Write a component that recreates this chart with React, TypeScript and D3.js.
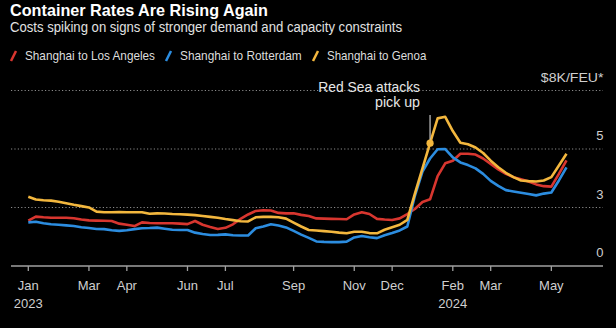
import React from "react";
import * as d3 from "d3";

const START = "2023-01-05";
const laValues = [
  2.07, 2.25, 2.22, 2.2, 2.2, 2.2, 2.18, 2.12, 2.08, 2.07,
  2.06, 2.05, 1.93, 1.88, 1.82, 1.99, 1.96, 1.95, 1.95, 1.95,
  1.93, 1.91, 2.05, 1.88, 1.78, 1.69, 1.74, 1.9, 2.15, 2.35,
  2.51, 2.54, 2.53, 2.42, 2.4, 2.4, 2.33, 2.28, 2.17, 2.16,
  2.15, 2.14, 2.13, 2.35, 2.45, 2.37, 2.15, 2.12, 2.1, 2.17,
  2.37, 2.6, 2.92, 3.04, 4.1, 4.68, 4.8, 5.12, 5.12, 5.08,
  4.9, 4.65, 4.4, 4.2, 4.05, 3.95, 3.85, 3.72, 3.64, 3.62,
  4.2, 4.82,
];
const rotterdamValues = [
  1.99, 2.02, 1.95, 1.9, 1.88, 1.85, 1.82, 1.77, 1.73, 1.69,
  1.68, 1.63, 1.6, 1.63, 1.68, 1.72, 1.73, 1.75, 1.7, 1.65,
  1.64, 1.64, 1.52, 1.46, 1.41, 1.42, 1.44, 1.4, 1.39, 1.39,
  1.72, 1.8, 1.9, 1.85, 1.76, 1.6, 1.43, 1.28, 1.12, 1.1,
  1.09, 1.09, 1.11, 1.3, 1.37, 1.31, 1.27, 1.4, 1.5, 1.62,
  1.8, 3.2, 4.3, 4.9, 5.32, 5.33, 4.95, 4.72, 4.6, 4.45,
  4.2, 3.88, 3.65, 3.46, 3.4, 3.34, 3.28, 3.22, 3.3, 3.35,
  3.9, 4.5,
];
const genoaValues = [
  3.16, 3.03, 3.0, 2.98, 2.93, 2.86, 2.79, 2.73, 2.67, 2.48,
  2.45, 2.45, 2.46, 2.45, 2.45, 2.45, 2.38, 2.4, 2.39, 2.37,
  2.36, 2.34, 2.32, 2.28, 2.24, 2.2, 2.14, 2.09, 2.04, 2.03,
  2.22, 2.24, 2.24, 2.22, 2.16, 1.98, 1.8, 1.64, 1.62, 1.59,
  1.56, 1.52, 1.49, 1.56, 1.56, 1.5, 1.49, 1.65, 1.77, 1.88,
  2.1, 3.3, 4.45, 5.6, 6.73, 6.8, 6.15, 5.62, 5.55, 5.4,
  5.15, 4.8, 4.5, 4.25, 4.05, 3.9, 3.87, 3.85, 3.9, 4.05,
  4.58, 5.12,
];
const seriesNames = ["Shanghai to Los Angeles", "Shanghai to Rotterdam", "Shanghai to Genoa"];
const seriesColors = ["#d8362f", "#2c8de0", "#f3b73e"];
const yTickValues = [0, 8 / 3, 16 / 3, 8];
const yTickLabels = ["0", "3", "5", "$8K/FEU*"];
const xTickDates = [
  "2023-01-05", "2023-03-02", "2023-04-06", "2023-06-01", "2023-07-06", "2023-09-07",
  "2023-11-02", "2023-12-07", "2024-02-01", "2024-03-07", "2024-05-02",
];
const xTickLabels = ["Jan", "Mar", "Apr", "Jun", "Jul", "Sep", "Nov", "Dec", "Feb", "Mar", "May"];
const yearLabels = [
  { date: "2023-01-05", label: "2023" },
  { date: "2024-02-01", label: "2024" },
];
const annotationIndex = 53;
const annotationLines = ["Red Sea attacks", "pick up"];

const W = 616;
const H = 328;
const FONT = "'Liberation Sans Narrow', 'Liberation Sans', Arial, sans-serif";

function parse(s: string): Date {
  const [y, m, d] = s.split("-").map(Number);
  return new Date(y, m - 1, d);
}

export default function App() {
  const start = parse(START);
  const dates = laValues.map((_, i) => d3.timeDay.offset(start, 7 * i));
  const x = d3
    .scaleTime()
    .domain([parse("2023-01-05"), parse("2024-05-16")])
    .range([28.3, 566.5]);
  const y = d3.scaleLinear().domain([0, 8]).range([266, 90.5]);
  const allSeries = [laValues, rotterdamValues, genoaValues];
  const line = d3
    .line<number>()
    .x((_, i) => x(dates[i]))
    .y((v) => y(v))
    .curve(d3.curveLinear);

  const legendX = [10, 165, 312];
  const legendLen = [130, 121.7, 99.3];
  const ax = x(dates[annotationIndex]);
  const ay = y(genoaValues[annotationIndex]);

  return (
    <div style={{ position: "fixed", left: 0, top: 0, width: W, height: H, background: "#000" }}>
      <svg width={W} height={H} style={{ display: "block", background: "#000" }} fontFamily={FONT}>
        <text x={10} y={15.5} fill="#fff" fontSize={16.5} fontWeight="bold" textLength={258} lengthAdjust="spacingAndGlyphs">
          Container Rates Are Rising Again
        </text>
        <text x={10} y={31.5} fill="#e2e2e2" fontSize={14} textLength={392} lengthAdjust="spacingAndGlyphs">
          Costs spiking on signs of stronger demand and capacity constraints
        </text>
        {seriesNames.map((n, i) => (
          <g key={n}>
            <line x1={legendX[i] + 1} y1={61} x2={legendX[i] + 6} y2={51} stroke={seriesColors[i]} strokeWidth={2.5} />
            <text x={legendX[i] + 15} y={59.5} fill="#ddd" fontSize={13.5} textLength={legendLen[i]} lengthAdjust="spacingAndGlyphs">
              {n}
            </text>
          </g>
        ))}
        {yTickValues.slice(1).map((v) => (
          <line key={v} x1={11} x2={603} y1={y(v)} y2={y(v)} stroke="#8a8a8a" strokeWidth={1} strokeDasharray="1.2,2.2" />
        ))}
        {yTickValues.map((v, i) => (
          <text
            key={i}
            x={603.5}
            y={y(v) - 9}
            fill="#cfcfcf"
            fontSize={13}
            textAnchor="end"
            {...(i === 3 ? { textLength: 62.7, lengthAdjust: "spacingAndGlyphs" } : {})}
          >
            {yTickLabels[i]}
          </text>
        ))}
        <line x1={11} x2={603} y1={266} y2={266} stroke="#a0a0a0" strokeWidth={1.6} />
        {xTickDates.map((ds, i) => {
          const xx = x(parse(ds));
          return (
            <g key={ds}>
              <line x1={xx} x2={xx} y1={266} y2={271} stroke="#a0a0a0" strokeWidth={1.3} />
              <text x={xx} y={290} fill="#cfcfcf" fontSize={13} textAnchor="middle">
                {xTickLabels[i]}
              </text>
            </g>
          );
        })}
        {yearLabels.map((yl) => (
          <text key={yl.label} x={x(parse(yl.date))} y={307.5} fill="#cfcfcf" fontSize={13} textAnchor="middle">
            {yl.label}
          </text>
        ))}
        <text x={10} y={337} fill="#aaa" fontSize={13}>
          Source: Drewry World Container Index
        </text>
        {allSeries.map((vals, i) => (
          <path key={i} d={line(vals) || ""} fill="none" stroke={seriesColors[i]} strokeWidth={2.6} strokeLinejoin="round" />
        ))}
        <line x1={ax} x2={ax} y1={115} y2={ay} stroke="#c8c8c8" strokeWidth={1.2} />
        <circle cx={ax} cy={ay} r={3.6} fill={seriesColors[2]} />
        <text x={420} y={92} fill="#e6e6e6" fontSize={14} textAnchor="end" textLength={101.7} lengthAdjust="spacingAndGlyphs">
          {annotationLines[0]}
        </text>
        <text x={420} y={107} fill="#e6e6e6" fontSize={14} textAnchor="end" textLength={45} lengthAdjust="spacingAndGlyphs">
          {annotationLines[1]}
        </text>
      </svg>
    </div>
  );
}
